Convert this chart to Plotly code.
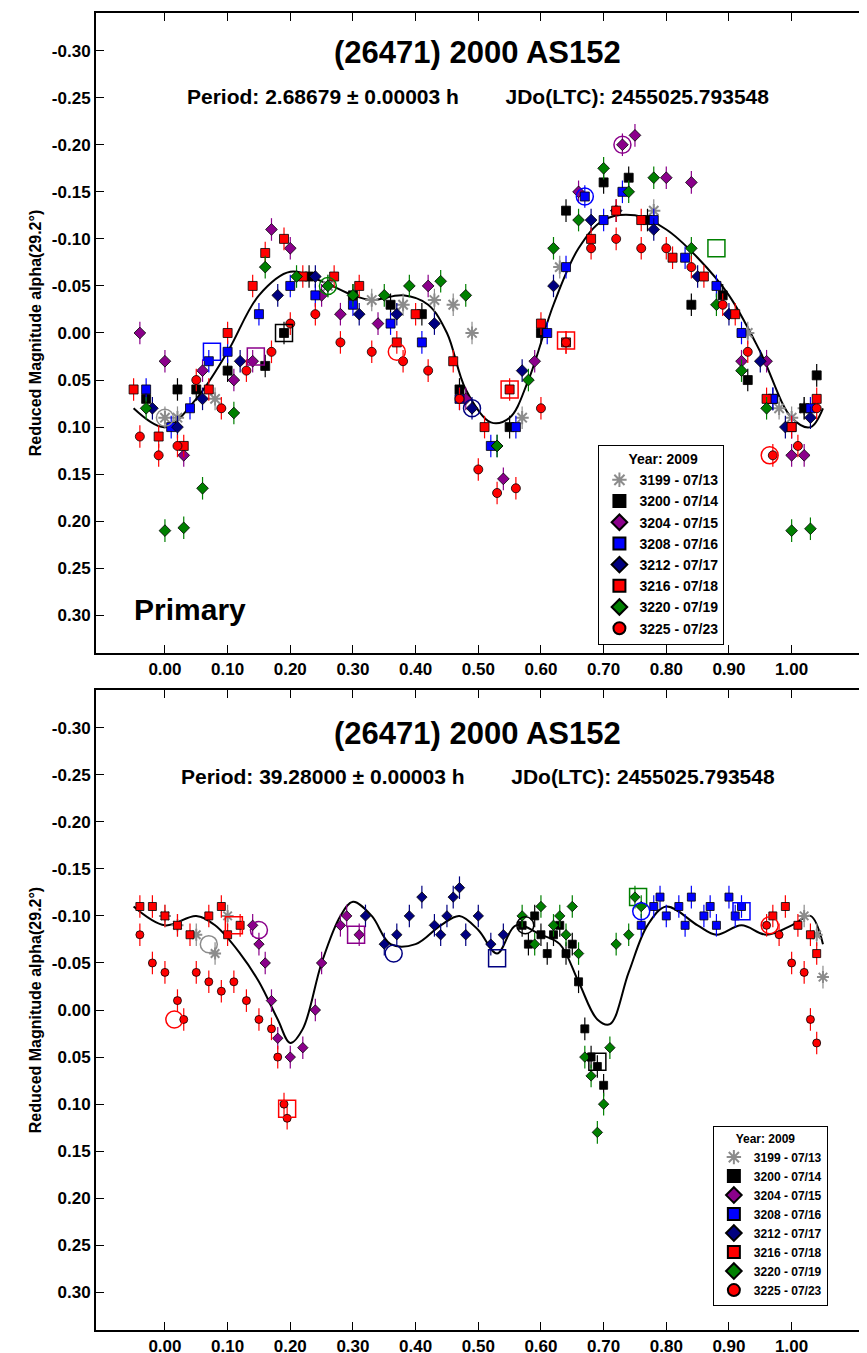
import plotly.graph_objects as go

# ---- fit curves ----
fit1_x = [-0.05, 0.0, 0.05, 0.10, 0.15, 0.20, 0.25, 0.30, 0.33, 0.38, 0.42, 0.45, 0.48, 0.52, 0.55,
          0.58, 0.62, 0.66, 0.70, 0.75, 0.80, 0.85, 0.90, 0.95, 1.00, 1.03, 1.05]
fit1_y = [0.08, 0.10, 0.07, 0.02, -0.04, -0.065, -0.055, -0.04, -0.035, -0.04, -0.03, 0.0, 0.06, 0.095, 0.09,
          0.05, -0.03, -0.09, -0.12, -0.125, -0.11, -0.08, -0.04, 0.02, 0.09, 0.10, 0.08]
fit2_x = [-0.05, 0.0, 0.05, 0.08, 0.12, 0.15, 0.18, 0.20, 0.22, 0.25, 0.28, 0.30, 0.33, 0.36, 0.40, 0.44,
          0.47, 0.50, 0.53, 0.56, 0.60, 0.63, 0.66, 0.69, 0.71, 0.74, 0.77, 0.80, 0.85, 0.88, 0.92, 0.96,
          1.00, 1.03, 1.05]
fit2_y = [-0.11, -0.09, -0.10, -0.09, -0.06, -0.03, 0.01, 0.035, 0.02, -0.05, -0.10, -0.115, -0.10, -0.07,
          -0.07, -0.09, -0.10, -0.085, -0.06, -0.09, -0.08, -0.07, -0.03, 0.01, 0.015, -0.04, -0.09, -0.11,
          -0.09, -0.08, -0.09, -0.08, -0.09, -0.10, -0.07]

# ---- series: name, colour, symbol ----
names = ["3199 - 07/13", "3200 - 07/14", "3204 - 07/15", "3208 - 07/16",
         "3212 - 07/17", "3216 - 07/18", "3220 - 07/19", "3225 - 07/23"]
colors = ["#8c8c8c", "black", "#8b008b", "#0000ff", "#000080", "#ff0000", "#008000", "#ff0000"]
symbols = ["asterisk-open", "square", "diamond", "square", "diamond", "square", "diamond", "circle"]

# ---- top panel (primary, P = 2.68679 h) ----
top_x = [
    [0.0, 0.02, 0.08, 0.26, 0.33, 0.38, 0.43, 0.46, 0.49, 0.57, 0.63, 0.78, 0.93, 0.98, 1.00, 1.02],
    [-0.03, 0.02, 0.05, 0.10, 0.16, 0.19, 0.23, 0.30, 0.36, 0.41, 0.47, 0.55, 0.60, 0.64, 0.70, 0.74,
     0.77, 0.84, 0.89, 0.93, 0.97, 1.02, 1.04],
    [-0.04, 0.0, 0.03, 0.06, 0.11, 0.14, 0.17, 0.20, 0.25, 0.28, 0.34, 0.42, 0.48, 0.54, 0.59, 0.66,
     0.73, 0.75, 0.80, 0.84, 0.92, 0.96, 1.00, 1.02],
    [-0.03, 0.01, 0.04, 0.07, 0.10, 0.15, 0.20, 0.24, 0.30, 0.36, 0.41, 0.47, 0.52, 0.56, 0.61, 0.64,
     0.67, 0.70, 0.73, 0.78, 0.83, 0.88, 0.92, 0.97, 1.00, 1.03],
    [-0.02, 0.02, 0.06, 0.12, 0.18, 0.24, 0.31, 0.37, 0.43, 0.49, 0.53, 0.57, 0.62, 0.68, 0.72, 0.78,
     0.85, 0.90, 0.95, 0.99, 1.03],
    [-0.05, -0.01, 0.03, 0.07, 0.10, 0.14, 0.16, 0.19, 0.22, 0.27, 0.31, 0.37, 0.40, 0.46, 0.51, 0.55,
     0.60, 0.64, 0.68, 0.72, 0.76, 0.81, 0.86, 0.91, 0.96, 1.00, 1.04],
    [-0.03, 0.0, 0.03, 0.06, 0.11, 0.16, 0.21, 0.26, 0.30, 0.35, 0.39, 0.44, 0.48, 0.53, 0.58, 0.62,
     0.66, 0.70, 0.74, 0.78, 0.84, 0.88, 0.92, 0.96, 1.0, 1.03],
    [-0.04, -0.01, 0.02, 0.05, 0.09, 0.13, 0.17, 0.20, 0.24, 0.28, 0.33, 0.38, 0.42, 0.47, 0.50, 0.53,
     0.56, 0.60, 0.64, 0.68, 0.72, 0.76, 0.80, 0.84, 0.89, 0.93, 0.97, 1.01, 1.04],
]
top_y = [
    [0.09, 0.09, 0.07, -0.05, -0.035, -0.03, -0.035, -0.03, 0.0, 0.09, -0.07, -0.13, 0.0, 0.08, 0.09, 0.08],
    [0.07, 0.06, 0.06, 0.04, 0.035, 0.0, -0.06, -0.04, -0.03, -0.02, 0.06, 0.10, 0.0, -0.13, -0.16, -0.165,
     -0.12, -0.03, -0.04, 0.05, 0.07, 0.08, 0.045],
    [0.0, 0.03, 0.13, 0.04, 0.05, 0.03, -0.11, -0.09, -0.04, -0.02, -0.01, -0.05, 0.07, 0.155, 0.03, -0.15,
     -0.20, -0.21, -0.165, -0.16, 0.03, 0.03, 0.13, 0.13],
    [0.06, 0.10, 0.08, 0.03, 0.02, -0.02, -0.05, -0.04, -0.03, -0.01, 0.01, 0.07, 0.12, 0.10, 0.0, -0.07,
     -0.145, -0.12, -0.15, -0.12, -0.08, -0.05, 0.0, 0.07, 0.10, 0.08],
    [0.08, 0.10, 0.07, 0.03, -0.04, -0.06, -0.02, -0.02, -0.01, 0.08, 0.12, 0.04, -0.05, -0.12, -0.13, -0.11,
     -0.06, -0.02, 0.03, 0.10, 0.09],
    [0.06, 0.11, 0.12, 0.06, 0.0, -0.05, -0.085, -0.10, -0.06, -0.06, -0.05, 0.01, -0.02, 0.03, 0.10, 0.06,
     -0.01, 0.01, -0.10, -0.13, -0.12, -0.08, -0.06, -0.02, 0.07, 0.10, 0.07],
    [0.08, 0.21, 0.207, 0.165, 0.085, -0.07, -0.06, -0.05, -0.04, -0.04, -0.05, -0.055, -0.04, 0.12, 0.05,
     -0.09, -0.12, -0.175, -0.15, -0.165, -0.09, -0.03, 0.04, 0.08, 0.21, 0.208],
    [0.11, 0.13, 0.12, 0.05, 0.08, 0.04, 0.02, -0.01, -0.02, 0.01, 0.02, 0.03, 0.04, 0.07, 0.145, 0.17,
     0.165, 0.08, 0.01, -0.09, -0.10, -0.09, -0.09, -0.07, -0.03, 0.02, 0.13, 0.12, 0.08],
]

# ---- bottom panel (P = 39.28 h) ----
bot_x = [
    [0.0, 0.02, 0.05, 0.08, 0.10, 1.02, 1.04, 1.05],
    [0.57, 0.58, 0.59, 0.60, 0.61, 0.62, 0.63, 0.64, 0.65, 0.66, 0.67, 0.68, 0.69, 0.70],
    [0.14, 0.15, 0.16, 0.17, 0.18, 0.20, 0.22, 0.24, 0.25, 0.28, 0.29, 0.31],
    [0.76, 0.78, 0.79, 0.80, 0.82, 0.83, 0.84, 0.86, 0.87, 0.88, 0.90, 0.91, 0.92],
    [0.32, 0.35, 0.37, 0.39, 0.41, 0.43, 0.44, 0.45, 0.46, 0.47, 0.48, 0.50, 0.52, 0.54],
    [-0.04, -0.02, 0.0, 0.02, 0.04, 0.07, 0.09, 0.10, 0.12, 0.97, 0.99, 1.01, 1.03, 1.04],
    [0.57, 0.59, 0.60, 0.62, 0.63, 0.64, 0.65, 0.66, 0.67, 0.68, 0.69, 0.70, 0.71, 0.72, 0.74, 0.75, 0.76],
    [-0.04, -0.02, 0.0, 0.02, 0.03, 0.05, 0.07, 0.09, 0.11, 0.13, 0.15, 0.17, 0.18, 0.19, 0.195,
     0.96, 0.98, 1.0, 1.02, 1.03, 1.04],
]
bot_y = [
    [-0.10, -0.09, -0.08, -0.06, -0.10, -0.10, -0.08, -0.035],
    [-0.09, -0.07, -0.10, -0.08, -0.06, -0.08, -0.09, -0.06, -0.07, -0.03, 0.02, 0.05, 0.06, 0.08],
    [-0.09, -0.07, -0.05, -0.01, 0.03, 0.05, 0.04, 0.0, -0.05, -0.09, -0.10, -0.08],
    [-0.09, -0.11, -0.12, -0.10, -0.11, -0.09, -0.12, -0.10, -0.11, -0.09, -0.12, -0.10, -0.11],
    [-0.10, -0.07, -0.08, -0.10, -0.12, -0.09, -0.08, -0.10, -0.12, -0.13, -0.08, -0.10, -0.07, -0.08],
    [-0.11, -0.11, -0.10, -0.09, -0.08, -0.10, -0.11, -0.08, -0.09, -0.10, -0.11, -0.09, -0.08, -0.06],
    [-0.10, -0.07, -0.11, -0.09, -0.10, -0.08, -0.11, -0.06, 0.05, 0.07, 0.13, 0.10, 0.04, -0.07, -0.08,
     -0.12, -0.11],
    [-0.08, -0.05, -0.04, -0.01, 0.01, -0.04, -0.03, -0.02, -0.03, -0.01, 0.01, 0.02, 0.05, 0.10, 0.115,
     -0.09, -0.08, -0.05, -0.04, 0.01, 0.035],
]

# ---- open epoch markers: (series index, x, y, symbol) ----
top_rings = [(7, 0.965, 0.13, "circle-open"), (7, 0.37, 0.02, "circle-open"), (1, 0.19, 0.0, "square-open"),
             (2, 0.73, -0.20, "circle-open"), (3, 0.67, -0.145, "circle-open"), (6, 0.88, -0.09, "square-open"),
             (5, 0.64, 0.008, "square-open"), (5, 0.55, 0.06, "square-open"), (3, 0.075, 0.02, "square-open"),
             (2, 0.145, 0.025, "square-open"), (6, 0.26, -0.05, "circle-open"), (4, 0.49, 0.08, "circle-open"),
             (0, 0.0, 0.09, "circle-open")]
bot_rings = [(7, 0.015, 0.01, "circle-open"), (7, 0.965, -0.09, "circle-open"), (5, 0.195, 0.105, "square-open"),
             (5, 0.11, -0.09, "square-open"), (2, 0.305, -0.08, "square-open"), (2, 0.15, -0.085, "circle-open"),
             (4, 0.365, -0.06, "circle-open"), (4, 0.53, -0.055, "square-open"), (1, 0.575, -0.09, "circle-open"),
             (6, 0.755, -0.12, "square-open"), (3, 0.76, -0.105, "circle-open"), (3, 0.92, -0.105, "square-open"),
             (1, 0.69, 0.055, "square-open"), (0, 0.07, -0.07, "circle-open")]

fig = go.Figure()


def add_panel(xs, ys, rings, fx, fy, xa, ya, leg, msize):
    fig.add_trace(go.Scatter(x=fx, y=fy, mode="lines", line=dict(color="black", width=2, shape="spline"),
                             xaxis=xa, yaxis=ya, showlegend=False, hoverinfo="skip"))
    for i in range(len(names)):
        grey = symbols[i] == "asterisk-open"
        fig.add_trace(go.Scatter(
            x=xs[i], y=ys[i], mode="markers", name="<b>%s</b>" % names[i], xaxis=xa, yaxis=ya, legend=leg,
            marker=dict(symbol=symbols[i], color=colors[i], size=msize + (2 if grey else 0),
                        line=dict(color=colors[i] if grey else "black", width=2 if grey else 0.8)),
            error_y=dict(type="constant", value=0.012, color=colors[i], thickness=1.2, width=0)))
    for i, rx, ry, sym in rings:
        fig.add_trace(go.Scatter(x=[rx], y=[ry], mode="markers", xaxis=xa, yaxis=ya, showlegend=False,
                                 marker=dict(symbol=sym, size=17, color=colors[i], line=dict(width=1.5))))


add_panel(top_x, top_y, top_rings, fit1_x, fit1_y, "x", "y", "legend", 9)
add_panel(bot_x, bot_y, bot_rings, fit2_x, fit2_y, "x2", "y2", "legend2", 8)

tickfont = dict(family="Liberation Sans Narrow, Liberation Sans", size=17, color="black")
yticks = [-0.30, -0.25, -0.20, -0.15, -0.10, -0.05, 0.0, 0.05, 0.10, 0.15, 0.20, 0.25, 0.30]
xticks = [0.0, 0.1, 0.2, 0.3, 0.4, 0.5, 0.6, 0.7, 0.8, 0.9, 1.0]
xax = dict(range=[-0.11, 1.125], tickvals=xticks, ticktext=["<b>%.2f</b>" % v for v in xticks],
           ticks="inside", ticklen=8, tickcolor="black", showline=True, linecolor="black", linewidth=2,
           mirror="allticks", showgrid=False, zeroline=False, tickfont=tickfont)
yax = dict(range=[0.34, -0.34], tickvals=yticks, ticktext=["<b>%.2f</b>" % v for v in yticks],
           ticks="inside", ticklen=8, tickcolor="black", showline=True, linecolor="black", linewidth=2,
           mirror="allticks", showgrid=False, zeroline=False, tickfont=tickfont,
           title=dict(text="<b>Reduced Magnitude alpha(29.2°)</b>", font=dict(family="Liberation Sans", size=16,
                                                                              color="black"), standoff=6))

legbox = dict(bgcolor="white", bordercolor="black", borderwidth=1, xanchor="left", yanchor="top",
              tracegroupgap=0, itemsizing="constant")
fig.update_layout(
    width=867, height=1353, margin=dict(l=0, r=0, t=0, b=0),
    plot_bgcolor="white", paper_bgcolor="white",
    xaxis=dict(xax, domain=[0.1015, 0.9942], anchor="y"),
    yaxis=dict(yax, domain=[0.5233, 0.9963], anchor="x"),
    xaxis2=dict(xax, domain=[0.1015, 0.9942], anchor="y2"),
    yaxis2=dict(yax, domain=[0.0229, 0.4959], anchor="x2"),
    legend=dict(legbox, x=0.681, y=0.677, font=dict(family="Liberation Sans", size=14, color="black"),
                title=dict(text="<b>       Year: 2009</b>", font=dict(size=14))),
    legend2=dict(legbox, x=0.813, y=0.1737, font=dict(family="Liberation Sans", size=12, color="black"),
                 title=dict(text="<b>      Year: 2009</b>", font=dict(size=12))),
)

for ytop, per in [(45, "2.68679"), (725, "39.28000")]:
    fig.add_annotation(x=0.542, y=1 - ytop / 1353, xref="paper", yref="paper", showarrow=False,
                       yanchor="middle", text="<b>(26471) 2000 AS152</b>",
                       font=dict(family="Liberation Sans", size=31, color="black"))
    fig.add_annotation(x=0.542, y=1 - (ytop + 43) / 1353, xref="paper", yref="paper", showarrow=False,
                       yanchor="middle",
                       text="<b>Period: %s ± 0.00003 h        JDo(LTC): 2455025.793548</b>" % per,
                       font=dict(family="Liberation Sans", size=21, color="black"))
fig.add_annotation(x=0.143, y=1 - 601 / 1353, xref="paper", yref="paper", showarrow=False, xanchor="left",
                   yanchor="middle", text="<b>Primary</b>",
                   font=dict(family="Liberation Sans", size=30, color="black"))

fig.write_html("out.html")
